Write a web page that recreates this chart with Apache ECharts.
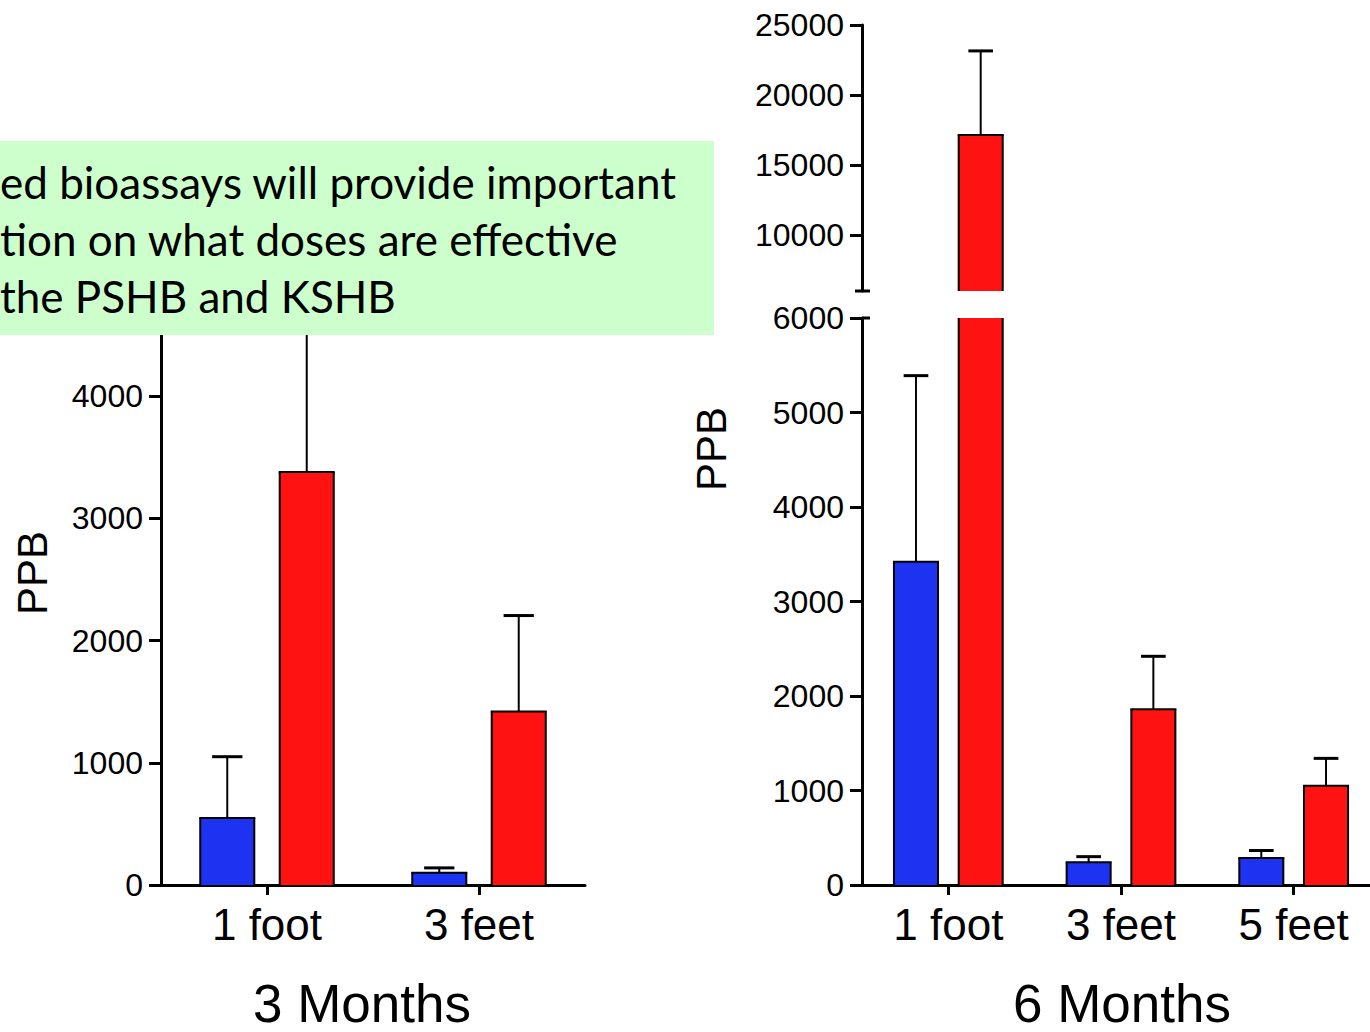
<!DOCTYPE html>
<html>
<head>
<meta charset="utf-8">
<script src="https://cdn.jsdelivr.net/npm/echarts@6/dist/echarts.min.js"></script>
<style>
  html, body { margin: 0; padding: 0; background: #fff; }
  #chart { width: 1370px; height: 1032px; }
</style>
</head>
<body>
<div id="chart"></div>
<script>
// data
var cats3 = ['1 foot', '3 feet'];
var blue3 = [548, 100];
var blueErr3 = [1050, 140];
var red3 = [3380, 1420];
var redErr3 = [5400, 2205];

var cats6 = ['1 foot', '3 feet', '5 feet'];
var blue6 = [3420, 240, 285];
var blueErr6 = [5390, 300, 365];
var red6 = [17150, 1860, 1050];
var redErr6 = [23150, 2420, 1340];

var ticks3 = [0, 1000, 2000, 3000, 4000];
var ticksLow = [0, 1000, 2000, 3000, 4000, 5000, 6000];
var ticksHigh = [10000, 15000, 20000, 25000];

var noteLines = [
  'ed bioassays will provide important',
  'tion on what doses are effective',
  'the PSHB and KSHB'
];

var BLUE = '#1e32f2';
var RED = '#ff1212';
var FONT = "'Liberation Sans', Arial, sans-serif";
var BAR_W = 0.255, BAR_GAP = 0.47;

var dom = document.getElementById('chart');
var myChart = echarts.init(dom, null, { renderer: 'svg' });

// layout
var g0 = { left: 161, top: 274, width: 424, height: 611, outerBoundsMode: 'none' };
var g1 = { left: 862, top: 318, width: 518, height: 567, outerBoundsMode: 'none' };
var g2 = { left: 862, top: 25, width: 518, height: 266, outerBoundsMode: 'none' };

function pairs(vals) {
  return vals.map(function (v, i) { return [i, v]; });
}

function errItems(vals, errs, lo, hi) {
  var out = [];
  vals.forEach(function (v, i) {
    if (v >= lo && v <= hi) out.push([i, v, errs[i]]);
  });
  return out;
}

// x of a bar inside its category band, same rule as barWidth / barGap below
function barX(api, cat, side) {
  var band = api.size([1, 0])[0];
  var w = band * BAR_W;
  return { x: api.coord([cat, 0])[0] + side * (w + w * BAR_GAP) / 2, w: w };
}

function errRender(side) {
  return function (params, api) {
    var cat = api.value(0);
    var b = barX(api, cat, side);
    var y0 = api.coord([cat, api.value(1)])[1];
    var y1 = api.coord([cat, api.value(2)])[1];
    var cap = b.w * 0.28;
    return {
      type: 'group',
      children: [
        { type: 'line', shape: { x1: b.x, y1: y0, x2: b.x, y2: y1 }, style: { stroke: '#000', lineWidth: 2 } },
        { type: 'line', shape: { x1: b.x - cap, y1: y1, x2: b.x + cap, y2: y1 }, style: { stroke: '#000', lineWidth: 3 } }
      ]
    };
  };
}

// bar outlines; open where the bar runs past the grid (broken axis)
function outlineRender(side) {
  return function (params, api) {
    var cs = params.coordSys;
    var cat = api.value(0);
    var b = barX(api, cat, side);
    var yTop = api.coord([cat, api.value(1)])[1];
    var yBase = api.coord([cat, 0])[1];
    var top = Math.max(yTop, cs.y);
    var bot = Math.min(yBase, cs.y + cs.height);
    if (bot <= top) return null;
    var l = b.x - b.w / 2, r = b.x + b.w / 2;
    var st = { stroke: '#000', lineWidth: 2 };
    var kids = [
      { type: 'line', shape: { x1: l, y1: top, x2: l, y2: bot }, style: st },
      { type: 'line', shape: { x1: r, y1: top, x2: r, y2: bot }, style: st }
    ];
    if (yTop >= cs.y) {
      kids.push({ type: 'line', shape: { x1: l - 1, y1: top, x2: r + 1, y2: top }, style: st });
    }
    return { type: 'group', children: kids };
  };
}

function plain(v) { return String(v); }

function yAx(grid, min, max, vals) {
  return {
    type: 'value', gridIndex: grid, min: min, max: max,
    splitLine: { show: false },
    axisLine: { show: true, lineStyle: { color: '#000', width: 3 } },
    axisTick: { show: true, length: 12, lineStyle: { color: '#000', width: 3 }, customValues: vals },
    axisLabel: { color: '#000', fontSize: 32, fontFamily: FONT, margin: 18, customValues: vals, formatter: plain }
  };
}

function xAx(grid, cats, name, show, namePad) {
  return {
    type: 'category', gridIndex: grid, data: cats, show: show,
    axisLine: { show: true, lineStyle: { color: '#000', width: 3 } },
    axisTick: { show: true, alignWithLabel: true, length: 10, lineStyle: { color: '#000', width: 3 } },
    axisLabel: { color: '#000', fontSize: 44, fontFamily: FONT, margin: 17 },
    name: name, nameLocation: 'middle', nameGap: 92,
    nameTextStyle: { color: '#000', fontSize: 53, fontFamily: FONT, padding: namePad }
  };
}

function barS(ax, data, color) {
  return {
    type: 'bar', xAxisIndex: ax, yAxisIndex: ax, data: data,
    barWidth: (BAR_W * 100) + '%', barGap: (BAR_GAP * 100) + '%',
    itemStyle: { color: color, borderWidth: 0 },
    silent: true
  };
}

function lineS(ax, data, side) {
  return {
    type: 'custom', xAxisIndex: ax, yAxisIndex: ax, data: data, z: 4,
    renderItem: outlineRender(side), silent: true
  };
}

function errS(ax, data, side) {
  return {
    type: 'custom', xAxisIndex: ax, yAxisIndex: ax, data: data, z: 5,
    renderItem: errRender(side), silent: true
  };
}

var series = [];
[[0, blue3, red3, blueErr3, redErr3, 0, 5000],
 [1, blue6, red6, blueErr6, redErr6, 0, 6000],
 [2, blue6, red6, blueErr6, redErr6, 6000, 25000]].forEach(function (s) {
  series.push(
    barS(s[0], s[1], BLUE), barS(s[0], s[2], RED),
    lineS(s[0], pairs(s[1]), -1), lineS(s[0], pairs(s[2]), 1),
    errS(s[0], errItems(s[1], s[3], s[5], s[6]), -1),
    errS(s[0], errItems(s[2], s[4], s[5], s[6]), 1)
  );
});

var option = {
  backgroundColor: '#fff',
  animation: false,
  grid: [g0, g1, g2],
  xAxis: [
    xAx(0, cats3, '3 Months', true, [0, 22, 0, 0]),
    xAx(1, cats6, '6 Months', true, [0, 0, 0, 2]),
    xAx(2, cats6, '', false, 0)
  ],
  yAxis: [
    yAx(0, 0, 5000, ticks3),
    yAx(1, 0, 6000, ticksLow),
    yAx(2, 6000, 25000, ticksHigh)
  ],
  series: series,
  graphic: [
    // axis break caps
    { type: 'line', z: 10, shape: { x1: g2.left - 7, y1: g2.top + g2.height, x2: g2.left + 8, y2: g2.top + g2.height }, style: { stroke: '#000', lineWidth: 3 } },
    { type: 'line', z: 10, shape: { x1: g1.left, y1: g1.top, x2: g1.left + 8, y2: g1.top }, style: { stroke: '#000', lineWidth: 3 } },
    // y axis titles
    { type: 'text', z: 10, x: 32, y: 573, rotation: Math.PI / 2,
      style: { text: 'PPB', font: '42px ' + FONT, fill: '#000', align: 'center', verticalAlign: 'middle' } },
    { type: 'text', z: 10, x: 711, y: 449, rotation: Math.PI / 2,
      style: { text: 'PPB', font: '42px ' + FONT, fill: '#000', align: 'center', verticalAlign: 'middle' } },
    // green note box
    { type: 'rect', z: 20, shape: { x: 0, y: 141, width: 714, height: 194 }, style: { fill: '#ccffcc' } },
    { type: 'text', z: 21, x: 0, y: 153,
      style: { text: noteLines.join('\n'), font: '44px Lato, sans-serif', lineHeight: 57, fill: '#000', align: 'left', verticalAlign: 'top' } }
  ]
};

myChart.setOption(option);
window.addEventListener('resize', myChart.resize);
</script>
</body>
</html>
